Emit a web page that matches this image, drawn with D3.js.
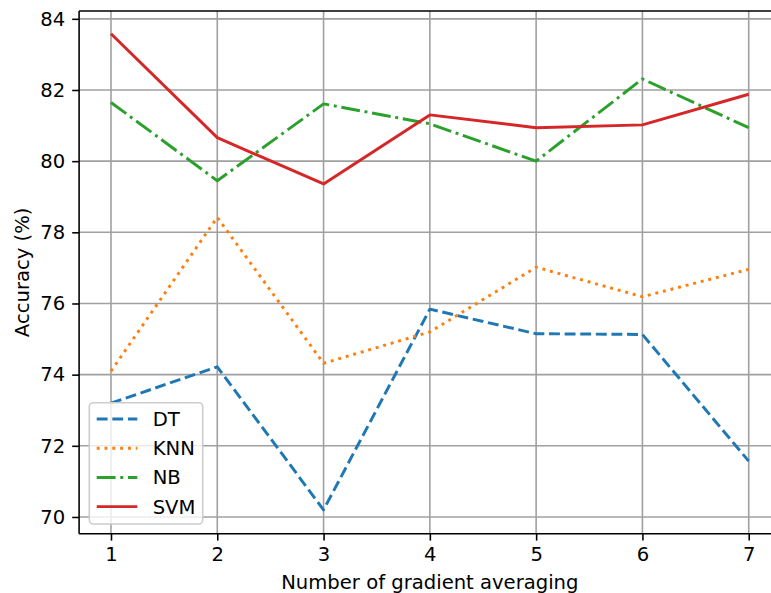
<!DOCTYPE html>
<html>
<head>
<meta charset="utf-8">
<script src="https://cdn.jsdelivr.net/npm/d3@7"></script>
<style>
  body { margin: 0; background: #fff; }
  text { font-family: "DejaVu Sans", sans-serif; fill: #000; }
</style>
</head>
<body>
<div id="chart"></div>
<script>
var steps = [1, 2, 3, 4, 5, 6, 7];
var dtValues = [73.2, 74.22, 70.2, 75.84, 75.15, 75.13, 71.57];
var knnValues = [74.1, 78.42, 74.32, 75.2, 77.02, 76.19, 76.96];
var nbValues = [81.65, 79.45, 81.61, 81.05, 80.0, 82.31, 80.94];
var svmValues = [83.58, 80.66, 79.36, 81.3, 80.94, 81.02, 81.88];
var yTicks = [70, 72, 74, 76, 78, 80, 82, 84];
var seriesNames = ["DT", "KNN", "NB", "SVM"];

var svgWidth = 771;
var svgHeight = 593;
var fontSize = 19.6;

// plot box (right edge runs past the picture, as in the reference)
var plotLeft = 79.1, plotRight = 780.6, plotTop = 11, plotBottom = 533.7;

var series = [
  { name: seriesNames[0], values: dtValues, color: "#1f77b4", dash: "10.9,4.7" },
  { name: seriesNames[1], values: knnValues, color: "#ff7f0e", dash: "2.95,4.86" },
  { name: seriesNames[2], values: nbValues, color: "#2ca02c", dash: "18.9,4.7,2.95,4.7" },
  { name: seriesNames[3], values: svmValues, color: "#d62728", dash: null }
];

var svg = d3.select("#chart")
  .append("svg")
  .attr("width", svgWidth)
  .attr("height", svgHeight);

var x = d3.scaleLinear().domain([0.7, 7.3]).range([plotLeft, plotRight]);
var y = d3.scaleLinear().domain([69.53, 84.22]).range([plotBottom, plotTop]);

// grid
var grid = svg.append("g");
grid.selectAll("line.v").data(steps).enter().append("line")
  .attr("x1", d => x(d)).attr("x2", d => x(d))
  .attr("y1", plotTop).attr("y2", plotBottom)
  .attr("stroke", "#a0a0a0").attr("stroke-width", 1.6);
grid.selectAll("line.h").data(yTicks).enter().append("line")
  .attr("x1", plotLeft).attr("x2", plotRight)
  .attr("y1", d => y(d)).attr("y2", d => y(d))
  .attr("stroke", "#a0a0a0").attr("stroke-width", 1.6);

// lines
var line = d3.line()
  .x((d, i) => x(steps[i]))
  .y(d => y(d));

series.forEach(function(s) {
  svg.append("path")
    .datum(s.values)
    .attr("d", line)
    .attr("fill", "none")
    .attr("stroke", s.color)
    .attr("stroke-width", 2.95)
    .attr("stroke-dasharray", s.dash)
    .attr("stroke-linejoin", "round");
});

// axes
var bottomAxis = d3.axisBottom(x).tickValues(steps).tickSize(6.9).tickPadding(6.2).tickFormat(d3.format("d"));
var leftAxis = d3.axisLeft(y).tickValues(yTicks).tickSize(6.9).tickPadding(6.9).tickFormat(d3.format("d"));

var gx = svg.append("g")
  .attr("transform", `translate(0, ${plotBottom})`)
  .call(bottomAxis);
var gy = svg.append("g")
  .attr("transform", `translate(${plotLeft}, 0)`)
  .call(leftAxis);

[gx, gy].forEach(function(g) {
  g.select(".domain").remove();
  g.selectAll(".tick line").attr("stroke", "#000").attr("stroke-width", 1.57);
  g.selectAll(".tick text").style("font-size", fontSize + "px").attr("fill", "#000");
});

// spines
svg.append("line").attr("x1", plotLeft).attr("x2", plotLeft).attr("y1", plotTop).attr("y2", plotBottom)
  .attr("stroke", "#000").attr("stroke-width", 1.57);
svg.append("line").attr("x1", plotLeft).attr("x2", plotRight).attr("y1", plotBottom).attr("y2", plotBottom)
  .attr("stroke", "#000").attr("stroke-width", 1.57);
svg.append("line").attr("x1", plotLeft).attr("x2", plotRight).attr("y1", plotTop).attr("y2", plotTop)
  .attr("stroke", "#000").attr("stroke-width", 1.57);

// axis labels
svg.append("text")
  .attr("x", x(4))
  .attr("y", 589)
  .attr("text-anchor", "middle")
  .style("font-size", fontSize + "px")
  .text("Number of gradient averaging");

svg.append("text")
  .attr("transform", `translate(29, ${(plotTop + plotBottom) / 2}) rotate(-90)`)
  .attr("text-anchor", "middle")
  .style("font-size", fontSize + "px")
  .text("Accuracy (%)");

// legend
var legend = svg.append("g");
legend.append("rect")
  .attr("x", 89.3).attr("y", 402.7)
  .attr("width", 113.4).attr("height", 121.3)
  .attr("rx", 4).attr("ry", 4)
  .attr("fill", "#fff").attr("fill-opacity", 0.8)
  .attr("stroke", "#cccccc").attr("stroke-width", 1.57);

var legendItems = legend.selectAll("g.item")
  .data(series)
  .enter()
  .append("g")
  .attr("transform", (d, i) => `translate(0, ${419 + i * 29.2})`);

legendItems.append("line")
  .attr("x1", 96.7).attr("x2", 137.3)
  .attr("y1", 0).attr("y2", 0)
  .attr("stroke", d => d.color)
  .attr("stroke-width", 2.95)
  .attr("stroke-dasharray", d => d.dash);

legendItems.append("text")
  .attr("x", 152.7)
  .attr("y", 0)
  .attr("dy", "0.36em")
  .style("font-size", fontSize + "px")
  .text(d => d.name);
</script>
</body>
</html>
